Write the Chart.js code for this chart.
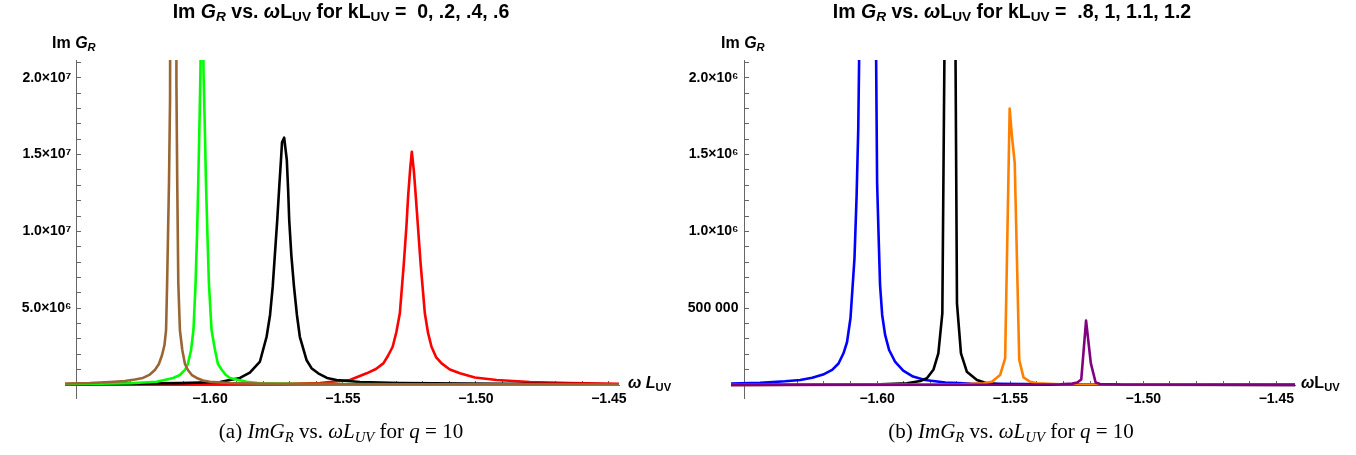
<!DOCTYPE html>
<html>
<head>
<meta charset="utf-8">
<script src="https://cdn.jsdelivr.net/npm/chart.js@4.4.1/dist/chart.umd.min.js"></script>
<style>
  body { margin: 0; background: #fff; }
  #wrap { position: relative; width: 1356px; height: 455px; overflow: hidden; }
  canvas { position: absolute; top: 0; }
  .lbl { position: absolute; font-family: 'Liberation Sans', Arial, sans-serif; font-weight: bold; color: #000; white-space: nowrap; }
  .title { font-size: 19.5px; top: 0px; transform: translateX(-50%); }
  .axt { font-size: 16px; }
  .lbl sub { font-size: 70%; vertical-align: -0.25em; line-height: 0; }
  .cap { position: absolute; top: 419px; font-family: 'Liberation Serif', 'DejaVu Serif', serif; font-size: 21px; transform: translateX(-50%); white-space: nowrap; color: #000; }
  .cap sub { font-size: 70%; vertical-align: -0.3em; line-height: 0; }
</style>
</head>
<body>
<div id="wrap">
  <canvas id="leftChart" width="678" height="455" style="left:0"></canvas>
  <canvas id="rightChart" width="678" height="455" style="left:678px"></canvas>

  <div class="lbl title" style="left:341px">Im <i>G</i><sub><i>R</i></sub> vs. <i>ω</i>L<sub>UV</sub> for kL<sub>UV</sub> = &nbsp;0, .2, .4, .6</div>
  <div class="lbl title" style="left:1012px">Im <i>G</i><sub><i>R</i></sub> vs. <i>ω</i>L<sub>UV</sub> for kL<sub>UV</sub> = &nbsp;.8, 1, 1.1, 1.2</div>

  <div class="lbl axt" style="left:52px;top:34px">Im <i>G</i><sub><i>R</i></sub></div>
  <div class="lbl axt" style="left:721px;top:34px">Im <i>G</i><sub><i>R</i></sub></div>
  <div class="lbl axt" style="left:628px;top:374px"><i>ω L</i><sub>UV</sub></div>
  <div class="lbl axt" style="left:1301px;top:374px"><i>ω</i>L<sub>UV</sub></div>

  <div class="cap" style="left:341px">(a) <i>ImG</i><sub><i>R</i></sub> vs. <i>ωL</i><sub><i>UV</i></sub> for <i>q</i> = 10</div>
  <div class="cap" style="left:1011px">(b) <i>ImG</i><sub><i>R</i></sub> vs. <i>ωL</i><sub><i>UV</i></sub> for <i>q</i> = 10</div>
</div>

<script>
// Im G_R values are in units of 10^6

// ---- left panel: kL_UV = 0, .2, .4, .6 ----
const brownW  = [-1.6545, -1.6451, -1.6376, -1.6320, -1.6282, -1.6252, -1.6226, -1.6207, -1.6192, -1.6180, -1.6171, -1.6165, -1.6161, -1.6154, -1.6150, -1.6138, -1.6126, -1.6123, -1.6119, -1.6113, -1.6104, -1.6094, -1.6083, -1.6068, -1.6050, -1.6026, -1.6000, -1.5925, -1.5812, -1.5662, -1.5286, -1.4462];
const brownIm = [0.10, 0.13, 0.20, 0.26, 0.36, 0.46, 0.68, 0.98, 1.37, 1.95, 2.60, 3.58, 6.64, 13.2, 18.6, 150, 19.5, 13.2, 6.64, 3.58, 2.28, 1.37, 0.98, 0.65, 0.46, 0.29, 0.21, 0.13, 0.09, 0.065, 0.046, 0.03];

const greenW  = [-1.6545, -1.6414, -1.6301, -1.6200, -1.6138, -1.6113, -1.6094, -1.6083, -1.6071, -1.6062, -1.6054, -1.6048, -1.6044, -1.6039, -1.6036, -1.6030, -1.6024, -1.6020, -1.6015, -1.6010, -1.6004, -1.5994, -1.5981, -1.5970, -1.5955, -1.5940, -1.5925, -1.5862, -1.5812, -1.5662, -1.5286, -1.4462];
const greenIm = [0.05, 0.08, 0.11, 0.21, 0.46, 0.65, 0.98, 1.37, 2.28, 3.58, 6.64, 10.1, 13.2, 17.3, 20.2, 28, 20.2, 17.3, 13.2, 10.1, 6.64, 3.58, 2.28, 1.37, 0.98, 0.65, 0.46, 0.21, 0.11, 0.07, 0.04, 0.02];

const blackLW  = [-1.6545, -1.6338, -1.6113, -1.5962, -1.5925, -1.5887, -1.5850, -1.5812, -1.5787, -1.5774, -1.5764, -1.5756, -1.5747, -1.5739, -1.5733, -1.5729, -1.5721, -1.5711, -1.5706, -1.5702, -1.5694, -1.5684, -1.5673, -1.5662, -1.5637, -1.5617, -1.5593, -1.5560, -1.5524, -1.5436, -1.5286, -1.4910, -1.4462];
const blackLIm = [0.05, 0.08, 0.12, 0.20, 0.33, 0.46, 0.81, 1.53, 3.14, 4.56, 6.40, 8.46, 10.74, 13.02, 14.65, 15.8, 16.1, 14.65, 12.7, 10.74, 8.46, 6.40, 4.56, 3.14, 1.63, 1.07, 0.76, 0.46, 0.33, 0.20, 0.13, 0.08, 0.05];

const redW  = [-1.6545, -1.6038, -1.5737, -1.5586, -1.5474, -1.5411, -1.5376, -1.5348, -1.5331, -1.5313, -1.5299, -1.5286, -1.5271, -1.5261, -1.5255, -1.5247, -1.5241, -1.5233, -1.5226, -1.5217, -1.5208, -1.5192, -1.5180, -1.5167, -1.5150, -1.5129, -1.5098, -1.5060, -1.5004, -1.4922, -1.4797, -1.4647, -1.4462];
const redIm = [0.02, 0.03, 0.07, 0.13, 0.33, 0.76, 1.04, 1.41, 1.89, 2.49, 3.45, 4.67, 7.92, 10.4, 12.26, 14.1, 15.19, 13.87, 12.26, 10.09, 7.92, 4.67, 3.39, 2.49, 1.82, 1.41, 1.01, 0.76, 0.49, 0.33, 0.20, 0.12, 0.08];

// ---- right panel: kL_UV = .8, 1, 1.1, 1.2 ----
const blueW  = [-1.6549, -1.6440, -1.6346, -1.6289, -1.6244, -1.6203, -1.6169, -1.6145, -1.6126, -1.6113, -1.6100, -1.6085, -1.6077, -1.6071, -1.6064, -1.6036, -1.6006, -1.6000, -1.5994, -1.5989, -1.5981, -1.5970, -1.5955, -1.5932, -1.5902, -1.5865, -1.5820, -1.5744, -1.5650, -1.5350, -1.4430];
const blueIm = [0.009, 0.014, 0.024, 0.033, 0.047, 0.068, 0.098, 0.140, 0.208, 0.280, 0.436, 0.827, 1.237, 1.660, 2.6, 10, 2.6, 1.315, 0.944, 0.651, 0.456, 0.326, 0.228, 0.150, 0.094, 0.055, 0.033, 0.016, 0.009, 0.005, 0.002];

const blackRW  = [-1.6549, -1.6102, -1.5989, -1.5888, -1.5838, -1.5813, -1.5788, -1.5770, -1.5755, -1.5745, -1.5726, -1.5707, -1.5700, -1.5685, -1.5663, -1.5625, -1.5588, -1.5538, -1.5162, -1.4430];
const blackRIm = [0.001, 0.003, 0.005, 0.011, 0.026, 0.044, 0.101, 0.206, 0.467, 2.6, 8, 2.6, 0.532, 0.206, 0.087, 0.033, 0.011, 0.005, 0.002, 0.001];

const orangeW  = [-1.6549, -1.5914, -1.5688, -1.5600, -1.5569, -1.5538, -1.5519, -1.5502, -1.5494, -1.5483, -1.5466, -1.5450, -1.5425, -1.5400, -1.5312, -1.4430];
const orangeIm = [0.001, 0.003, 0.005, 0.011, 0.021, 0.065, 0.174, 1.80, 1.63, 1.445, 0.163, 0.050, 0.021, 0.011, 0.005, 0.002];

const purpleW  = [-1.6549, -1.5538, -1.5312, -1.5267, -1.5248, -1.5233, -1.5215, -1.5197, -1.5179, -1.5162, -1.5086, -1.4430];
const purpleIm = [0.001, 0.002, 0.005, 0.009, 0.016, 0.036, 0.419, 0.141, 0.016, 0.007, 0.003, 0.001];

// ---- ticks ----
const xTicks = [-1.65, -1.64, -1.63, -1.62, -1.61, -1.60, -1.59, -1.58, -1.57, -1.56, -1.55, -1.54, -1.53, -1.52, -1.51, -1.50, -1.49, -1.48, -1.47, -1.46, -1.45];
const xMajor = [-1.60, -1.55, -1.50, -1.45];
const xMajorLabels = ['−1.60', '−1.55', '−1.50', '−1.45'];

const leftYTicks = [0, 1, 2, 3, 4, 5, 6, 7, 8, 9, 10, 11, 12, 13, 14, 15, 16, 17, 18, 19, 20, 21];
const leftYMajor = [5, 10, 15, 20];
const leftYLabels = ['5.0×10⁶', '1.0×10⁷', '1.5×10⁷', '2.0×10⁷'];

const rightYTicks = [0, 0.1, 0.2, 0.3, 0.4, 0.5, 0.6, 0.7, 0.8, 0.9, 1.0, 1.1, 1.2, 1.3, 1.4, 1.5, 1.6, 1.7, 1.8, 1.9, 2.0, 2.1];
const rightYMajor = [0.5, 1.0, 1.5, 2.0];
const rightYLabels = ['500 000', '1.0×10⁶', '1.5×10⁶', '2.0×10⁶'];

const AXIS_GREY = '#666666';
const TICK_FONT = { family: "'Liberation Sans', 'DejaVu Sans', sans-serif", size: 14, weight: 'bold' };

function toPoints(ws, ims) {
  return ws.map((w, i) => ({ x: w, y: ims[i] }));
}

function lineSet(ws, ims, color) {
  return {
    data: toPoints(ws, ims),
    borderColor: color,
    borderWidth: 2.6,
    borderJoinStyle: 'round',
    borderCapStyle: 'round',
    pointRadius: 0,
    tension: 0,
    fill: false,
    clip: 0
  };
}

function labelFor(value, majors, labels) {
  const i = majors.findIndex(m => Math.abs(m - value) < 1e-9);
  return i >= 0 ? labels[i] : '';
}

function makeChart(canvasId, datasets, cfg) {
  const ctx = document.getElementById(canvasId).getContext('2d');
  return new Chart(ctx, {
    type: 'line',
    data: { datasets: datasets },
    options: {
      responsive: false,
      animation: false,
      devicePixelRatio: 1,
      layout: { padding: cfg.padding },
      plugins: { legend: { display: false }, tooltip: { enabled: false } },
      scales: {
        x: {
          type: 'linear',
          min: cfg.xMin,
          max: cfg.xMax,
          position: { y: 0 },
          afterFit: scale => { scale.height = 0; },
          afterBuildTicks: scale => { scale.ticks = xTicks.map(v => ({ value: v })); },
          grid: { drawOnChartArea: false, tickLength: -5, color: AXIS_GREY, tickColor: AXIS_GREY },
          border: { color: AXIS_GREY, width: 1 },
          ticks: {
            autoSkip: false,
            maxRotation: 0,
            padding: 11,
            color: '#000',
            font: TICK_FONT,
            callback: value => labelFor(value, xMajor, xMajorLabels)
          }
        },
        y: {
          type: 'linear',
          min: cfg.yMin,
          max: cfg.yMax,
          position: { x: -1.65 },
          afterFit: scale => { scale.width = 0; },
          afterBuildTicks: scale => { scale.ticks = cfg.yTicks.map(v => ({ value: v })); },
          grid: { drawOnChartArea: false, tickLength: -5, color: AXIS_GREY, tickColor: AXIS_GREY },
          border: { color: AXIS_GREY, width: 1 },
          ticks: {
            autoSkip: false,
            color: '#000',
            font: TICK_FONT,
            callback: value => {
              const s = labelFor(value, cfg.yMajor, cfg.yLabels);
              return s ? s + '\u2009\u2009' : '';
            }
          }
        }
      }
    }
  });
}

// first dataset is drawn on top, as the last curve in the original
makeChart('leftChart', [
  lineSet(brownW, brownIm, '#996633'),
  lineSet(greenW, greenIm, '#00ff00'),
  lineSet(blackLW, blackLIm, '#000000'),
  lineSet(redW, redIm, '#ff0000')
], {
  padding: { left: 65, top: 60, right: 59, bottom: 57 },
  xMin: -1.6545, xMax: -1.4462,
  yMin: -0.846, yMax: 21.16,
  yTicks: leftYTicks, yMajor: leftYMajor, yLabels: leftYLabels
});

makeChart('rightChart', [
  lineSet(purpleW, purpleIm, '#800080'),
  lineSet(orangeW, orangeIm, '#ff8000'),
  lineSet(blackRW, blackRIm, '#000000'),
  lineSet(blueW, blueIm, '#0000ff')
], {
  padding: { left: 53, top: 60, right: 61, bottom: 57 },
  xMin: -1.6549, xMax: -1.4430,
  yMin: -0.0846, yMax: 2.116,
  yTicks: rightYTicks, yMajor: rightYMajor, yLabels: rightYLabels
});
</script>
</body>
</html>
